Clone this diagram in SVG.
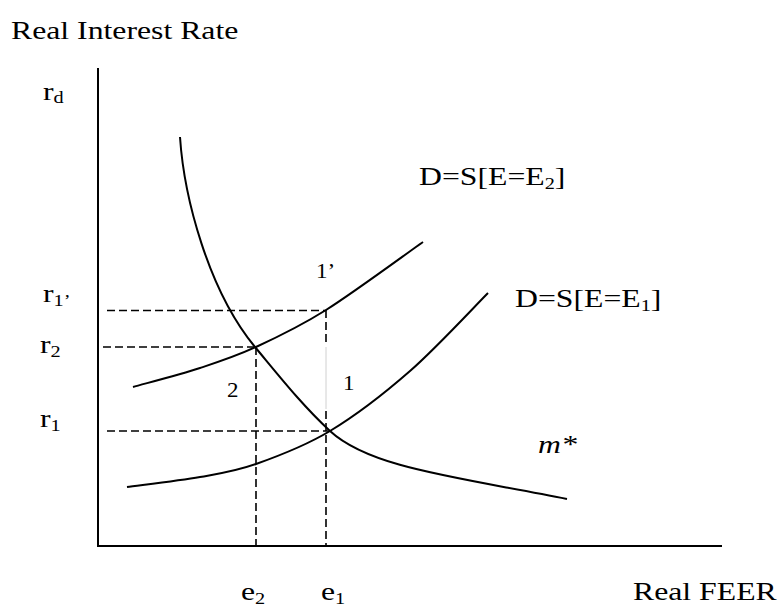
<svg xmlns="http://www.w3.org/2000/svg" width="782" height="606" viewBox="0 0 782 606">
<style>
  .t { font-family: "Liberation Serif", "Times New Roman", serif; font-size: 25px; fill: #000; }
  .s { font-size: 16px; }
  .n { font-family: "Liberation Serif", "Times New Roman", serif; font-size: 20px; fill: #000; }
  .i { font-style: italic; }
  .axis { stroke: #000; stroke-width: 2; fill: none; }
  .curve { stroke: #000; stroke-width: 2; fill: none; }
  .dash { stroke: #000; stroke-width: 1.6; stroke-dasharray: 8 4; fill: none; }
  .faint { stroke: #d0d0d0; stroke-width: 1; fill: none; }
</style>
<rect width="782" height="606" fill="#fff"/>

<g id="axes">
  <line class="axis" x1="98" y1="68" x2="98" y2="546"/>
  <line class="axis" x1="97" y1="546" x2="722" y2="546"/>
</g>

<g id="connectors">
  <line class="dash" x1="107" y1="310.5" x2="326" y2="310.5"/>
  <line class="dash" x1="103" y1="347" x2="256" y2="347"/>
  <line class="dash" x1="107" y1="431" x2="328" y2="431"/>
  <line class="dash" x1="256" y1="347" x2="256" y2="546"/>
  <line class="dash" x1="326" y1="310" x2="326" y2="346"/>
  <line class="faint" x1="326" y1="347" x2="326" y2="409"/>
  <line class="dash" x1="326" y1="411" x2="326" y2="546"/>
</g>

<g id="curve-mstar">
  <path class="curve" d="M180,137 C184,197 208,290 255,347 C280,377 302,405 330,431 C370,468 457,477 567,499"/>
</g>

<g id="curve-e2">
  <path class="curve" d="M133,387 C144.2,383.8 179.5,374.7 200,368 C220.5,361.3 235,356.7 256,347 C277,337.3 298.2,327.5 326,310 C353.8,292.5 406.8,253.3 423,242"/>
</g>

<g id="curve-e1">
  <path class="curve" d="M127,487 C139.2,485.3 178.5,480.8 200,477 C221.5,473.2 234.3,471.7 256,464 C277.7,456.3 304.3,446.5 330,431 C355.7,415.5 383.7,394 410,371 C436.3,348 475,306 488,293"/>
</g>

<g id="labels">
  <text class="t" transform="translate(11 39) scale(1.27 1)">Real Interest Rate</text>
  <text class="t" transform="translate(43 100) scale(1.27 1)">r<tspan class="s" dy="3">d</tspan></text>
  <text class="t" transform="translate(43 302) scale(1.27 1)">r<tspan class="s" dy="4">1’</tspan></text>
  <text class="t" transform="translate(40 353) scale(1.27 1)">r<tspan class="s" dy="4">2</tspan></text>
  <text class="t" transform="translate(40 427) scale(1.27 1)">r<tspan class="s" dy="4">1</tspan></text>
  <text class="t" transform="translate(419 185) scale(1.27 1)">D=S[E=E<tspan class="s" dy="4">2</tspan><tspan dy="-4">]</tspan></text>
  <text class="t" transform="translate(515 307) scale(1.27 1)">D=S[E=E<tspan class="s" dy="4">1</tspan><tspan dy="-4">]</tspan></text>
  <text class="n" transform="translate(316 278) scale(1.15 1)">1’</text>
  <text class="n" transform="translate(227 397) scale(1.15 1)">2</text>
  <text class="n" transform="translate(343 390) scale(1.15 1)">1</text>
  <text class="t i" transform="translate(538 453) scale(1.27 1)">m*</text>
  <text class="t" transform="translate(241 600) scale(1.27 1)">e<tspan class="s" dy="4">2</tspan></text>
  <text class="t" transform="translate(321 600) scale(1.27 1)">e<tspan class="s" dy="4">1</tspan></text>
  <text class="t" transform="translate(633 600) scale(1.27 1)">Real FEER</text>
</g>
</svg>
